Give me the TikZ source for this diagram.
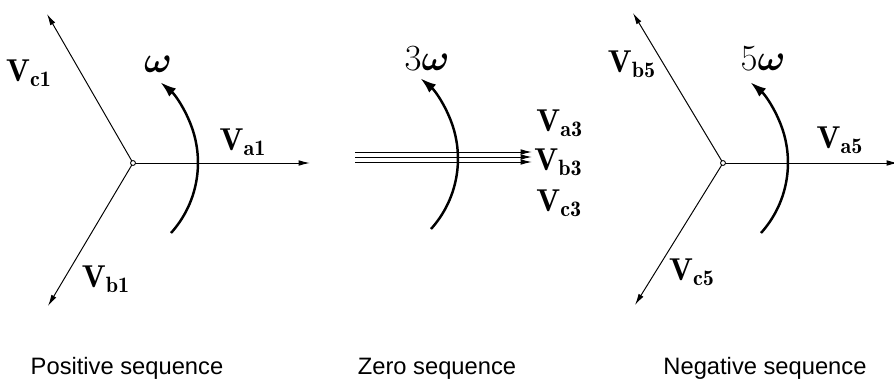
\RequirePackage{fix-cm}
\documentclass[tikz,border=0pt]{standalone}
\usepackage{amsmath}
\usepackage{fontspec}
\setsansfont{Liberation Sans}
\usepackage{tikz}
\usetikzlibrary{arrows.meta}

\begin{document}
\begin{tikzpicture}[x=0.02cm,y=0.02cm,
    phasor/.style={line width=0.55pt,-{Latex[length=6.5pt,width=3.2pt]}},
    spin/.style={line width=1.4pt,-{Latex[length=9pt,width=6pt]}},
    hub/.style={circle,draw,fill=white,line width=0.5pt,inner sep=0pt,minimum size=2.8pt},
    vlbl/.style={font=\fontsize{18}{22}\selectfont,inner sep=0pt},
    wlbl/.style={font=\fontsize{21}{25}\selectfont,inner sep=0pt},
    seqlbl/.style={font=\sffamily\fontsize{13.5}{16}\selectfont,anchor=base,inner sep=0pt}]
\useasboundingbox (0,0) rectangle (894,380);

% positive sequence
\coordinate (a1) at (310,217);
\coordinate (b1) at (48,74);
\coordinate (c1) at (47,366);
\draw[phasor] (133,217) -- (a1);
\draw[phasor] (133,217) -- (b1);
\draw[phasor] (133,217) -- (c1);
\node[hub] (o1) at (133,217) {};
\draw[spin] (171,147) arc[start angle=-42, end angle=50, radius=105];
\node[wlbl] (w1) at (158,316) {$\boldsymbol{\omega}$};
\node[vlbl] (va1) at (243,238) {$\mathbf{V}_{\mathbf{a1}}$};
\node[vlbl] (vb1) at (106,101) {$\mathbf{V}_{\mathbf{b1}}$};
\node[vlbl] (vc1) at (29,307) {$\mathbf{V}_{\mathbf{c1}}$};
\node[seqlbl] (pos) at (127,6) {Positive sequence};

% zero sequence
\foreach \y in {228,223,218}
  \draw[phasor] (355,\y) -- (532,\y);
\draw[spin] (431,151) arc[start angle=-42, end angle=50, radius=105];
\node[wlbl] (w3) at (427,321) {$3\boldsymbol{\omega}$};
\node[vlbl,anchor=west] (va3) at (536,257) {$\mathbf{V}_{\mathbf{a3}}$};
\node[vlbl,anchor=west] (vb3) at (534,218) {$\mathbf{V}_{\mathbf{b3}}$};
\node[vlbl,anchor=west] (vc3) at (536,177) {$\mathbf{V}_{\mathbf{c3}}$};
\node[seqlbl] (zero) at (437,6) {Zero sequence};

% negative sequence
\coordinate (a5) at (898,217);
\coordinate (b5) at (633,367);
\coordinate (c5) at (635,75);
\draw[phasor] (723,217) -- (a5);
\draw[phasor] (723,217) -- (b5);
\draw[phasor] (723,217) -- (c5);
\node[hub] (o5) at (723,217) {};
\draw[spin] (761,147) arc[start angle=-42, end angle=50, radius=105];
\node[wlbl] (w5) at (763,321) {$5\boldsymbol{\omega}$};
\node[vlbl] (va5) at (840,240) {$\mathbf{V}_{\mathbf{a5}}$};
\node[vlbl] (vb5) at (632,316) {$\mathbf{V}_{\mathbf{b5}}$};
\node[vlbl] (vc5) at (692,108) {$\mathbf{V}_{\mathbf{c5}}$};
\node[seqlbl] (neg) at (765,6) {Negative sequence};
\end{tikzpicture}
\end{document}
